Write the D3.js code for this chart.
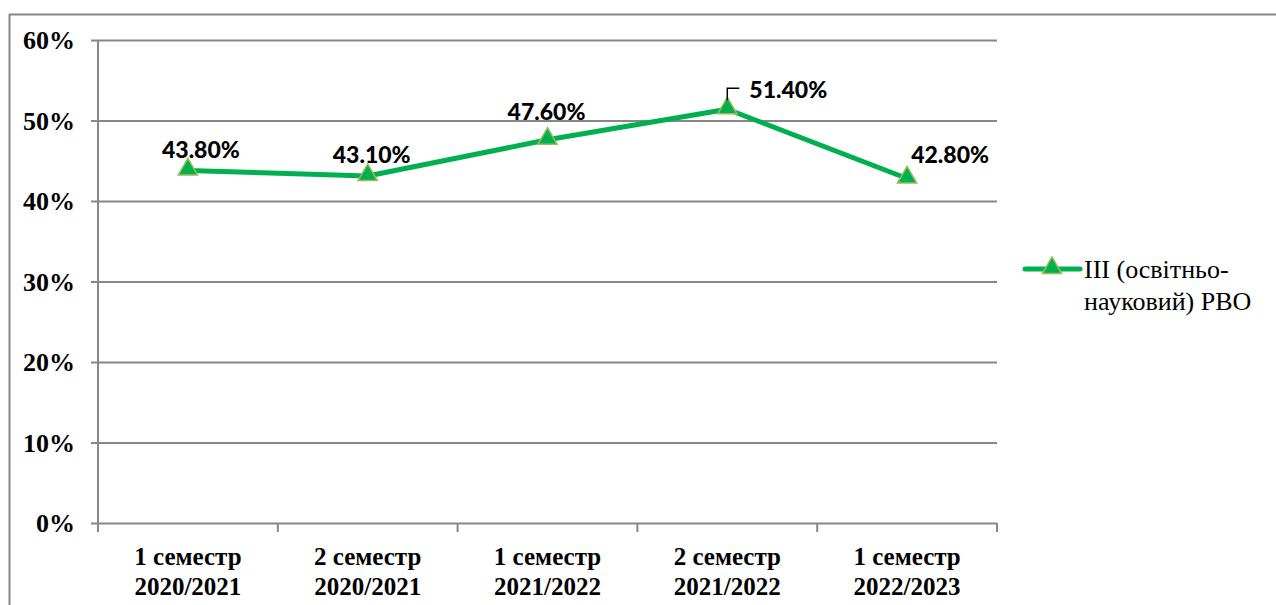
<!DOCTYPE html>
<html lang="uk">
<head>
<meta charset="utf-8">
<title>III (освітньо-науковий) РВО</title>
<script src="https://d3js.org/d3.v7.min.js"></script>
<style>
  html, body { margin: 0; padding: 0; background: #fff; }
  .serif { font-family: "Liberation Serif", "DejaVu Serif", serif; }
  .calib { font-family: Lato, "Open Sans", sans-serif; }
</style>
</head>
<body>
<script>
// chart data
var categories = [
  ["1 семестр", "2020/2021"],
  ["2 семестр", "2020/2021"],
  ["1 семестр", "2021/2022"],
  ["2 семестр", "2021/2022"],
  ["1 семестр", "2022/2023"]
];
var values = [43.8, 43.1, 47.6, 51.4, 42.8];
var yTicks = [0, 10, 20, 30, 40, 50, 60];
var seriesName = ["III (освітньо-", "науковий) РВО"];

var w = 1276, h = 605;
var plotLeft = 98, plotRight = 997, plotTop = 40, plotBottom = 523;
var green = "#00B050", grid = "#878787";

var svg = d3.select("body").append("svg")
  .attr("width", w).attr("height", h);

// outer frame
svg.append("rect")
  .attr("x", 9.5).attr("y", 14.5)
  .attr("width", w).attr("height", h)
  .attr("fill", "none").attr("stroke", grid).attr("stroke-width", 2);

var x = d3.scaleBand()
  .domain(d3.range(categories.length))
  .range([plotLeft, plotRight]);

var y = d3.scaleLinear().domain([0, 60]).range([plotBottom, plotTop]);

// horizontal gridlines + y axis
var yAxis = d3.axisLeft(y)
  .tickValues(yTicks)
  .tickSize(-(plotRight - plotLeft))
  .tickFormat(function(d) { return d + "%"; });

var gy = svg.append("g").attr("transform", "translate(" + plotLeft + ",0)").call(yAxis);
gy.attr("font-family", null).attr("font-size", null);
gy.select(".domain").remove();
gy.selectAll(".tick line")
  .attr("x1", -7)
  .attr("stroke", grid).attr("stroke-width", 2);
gy.selectAll(".tick text")
  .attr("class", "serif")
  .attr("x", -23)
  .attr("dy", "0.34em")
  .attr("font-weight", "bold")
  .attr("font-size", "26px")
  .attr("fill", "#000");

// vertical axis line
svg.append("line")
  .attr("x1", plotLeft).attr("x2", plotLeft)
  .attr("y1", plotTop).attr("y2", plotBottom + 8)
  .attr("stroke", grid).attr("stroke-width", 2);

// x axis ticks at band boundaries
var bounds = d3.range(categories.length + 1).map(function(i) {
  return i < categories.length ? x(i) : plotRight;
});
svg.selectAll(".xtick").data(bounds).enter().append("line")
  .attr("class", "xtick")
  .attr("x1", function(d) { return d; }).attr("x2", function(d) { return d; })
  .attr("y1", plotBottom).attr("y2", plotBottom + 9)
  .attr("stroke", grid).attr("stroke-width", 2);

var cx = function(d, i) { return x(i) + x.bandwidth() / 2; };

var xl = svg.selectAll(".xlab").data(categories).enter().append("text")
  .attr("class", "serif")
  .attr("text-anchor", "middle")
  .attr("font-weight", "bold")
  .attr("font-size", "25px")
  .attr("fill", "#000");
xl.append("tspan")
  .attr("x", cx)
  .attr("y", 565)
  .text(function(d) { return d[0]; });
xl.append("tspan")
  .attr("x", cx)
  .attr("y", 595)
  .text(function(d) { return d[1]; });

// line
var line = d3.line()
  .x(function(d, i) { return cx(d, i); })
  .y(function(d) { return y(d); });

svg.append("path")
  .datum(values)
  .attr("d", line)
  .attr("fill", "none")
  .attr("stroke", green)
  .attr("stroke-width", 5)
  .attr("stroke-linejoin", "round");

var tri = d3.symbol().type(d3.symbolTriangle).size(160);

svg.selectAll(".marker").data(values).enter().append("path")
  .attr("class", "marker")
  .attr("d", tri)
  .attr("transform", function(d, i) { return "translate(" + cx(d, i) + "," + (y(d) - 1) + ")"; })
  .attr("fill", green)
  .attr("stroke", "#9BBB59")
  .attr("stroke-width", 1.5);

// data labels (offsets relative to point)
var labelDx = [13, 4, -1, 61, 43];
var labelDy = [-21, -21, -28, -20, -24];

svg.selectAll(".vlab").data(values).enter().append("text")
  .attr("class", "calib")
  .attr("x", function(d, i) { return cx(d, i) + labelDx[i]; })
  .attr("y", function(d, i) { return y(d) + labelDy[i]; })
  .attr("dy", "0.36em")
  .attr("text-anchor", "middle")
  .attr("font-weight", "900")
  .attr("font-size", "23px")
  .attr("fill", "#000")
  .text(function(d) { return d.toFixed(2) + "%"; });

// leader line for 51.40%
var li = 3;
svg.append("path")
  .attr("d", "M" + cx(values[li], li) + "," + (y(values[li]) - 9) +
             "V" + (y(values[li]) - 21) + "H" + (cx(values[li], li) + 12))
  .attr("fill", "none").attr("stroke", "#000").attr("stroke-width", 1.5);

// legend
var lg = svg.append("g").attr("transform", "translate(1025,269)");
lg.append("line")
  .attr("x1", 0).attr("x2", 55).attr("y1", 0).attr("y2", 0)
  .attr("stroke", green).attr("stroke-width", 5).attr("stroke-linecap", "round");
lg.append("path")
  .attr("d", tri)
  .attr("transform", "translate(27,-1)")
  .attr("fill", green).attr("stroke", "#9BBB59").attr("stroke-width", 1.5);
lg.selectAll("text").data(seriesName).enter().append("text")
  .attr("class", "serif")
  .attr("x", 59)
  .attr("y", function(d, i) { return 9 + i * 32; })
  .attr("font-size", "26px")
  .attr("fill", "#000")
  .text(function(d) { return d; });
</script>
</body>
</html>
